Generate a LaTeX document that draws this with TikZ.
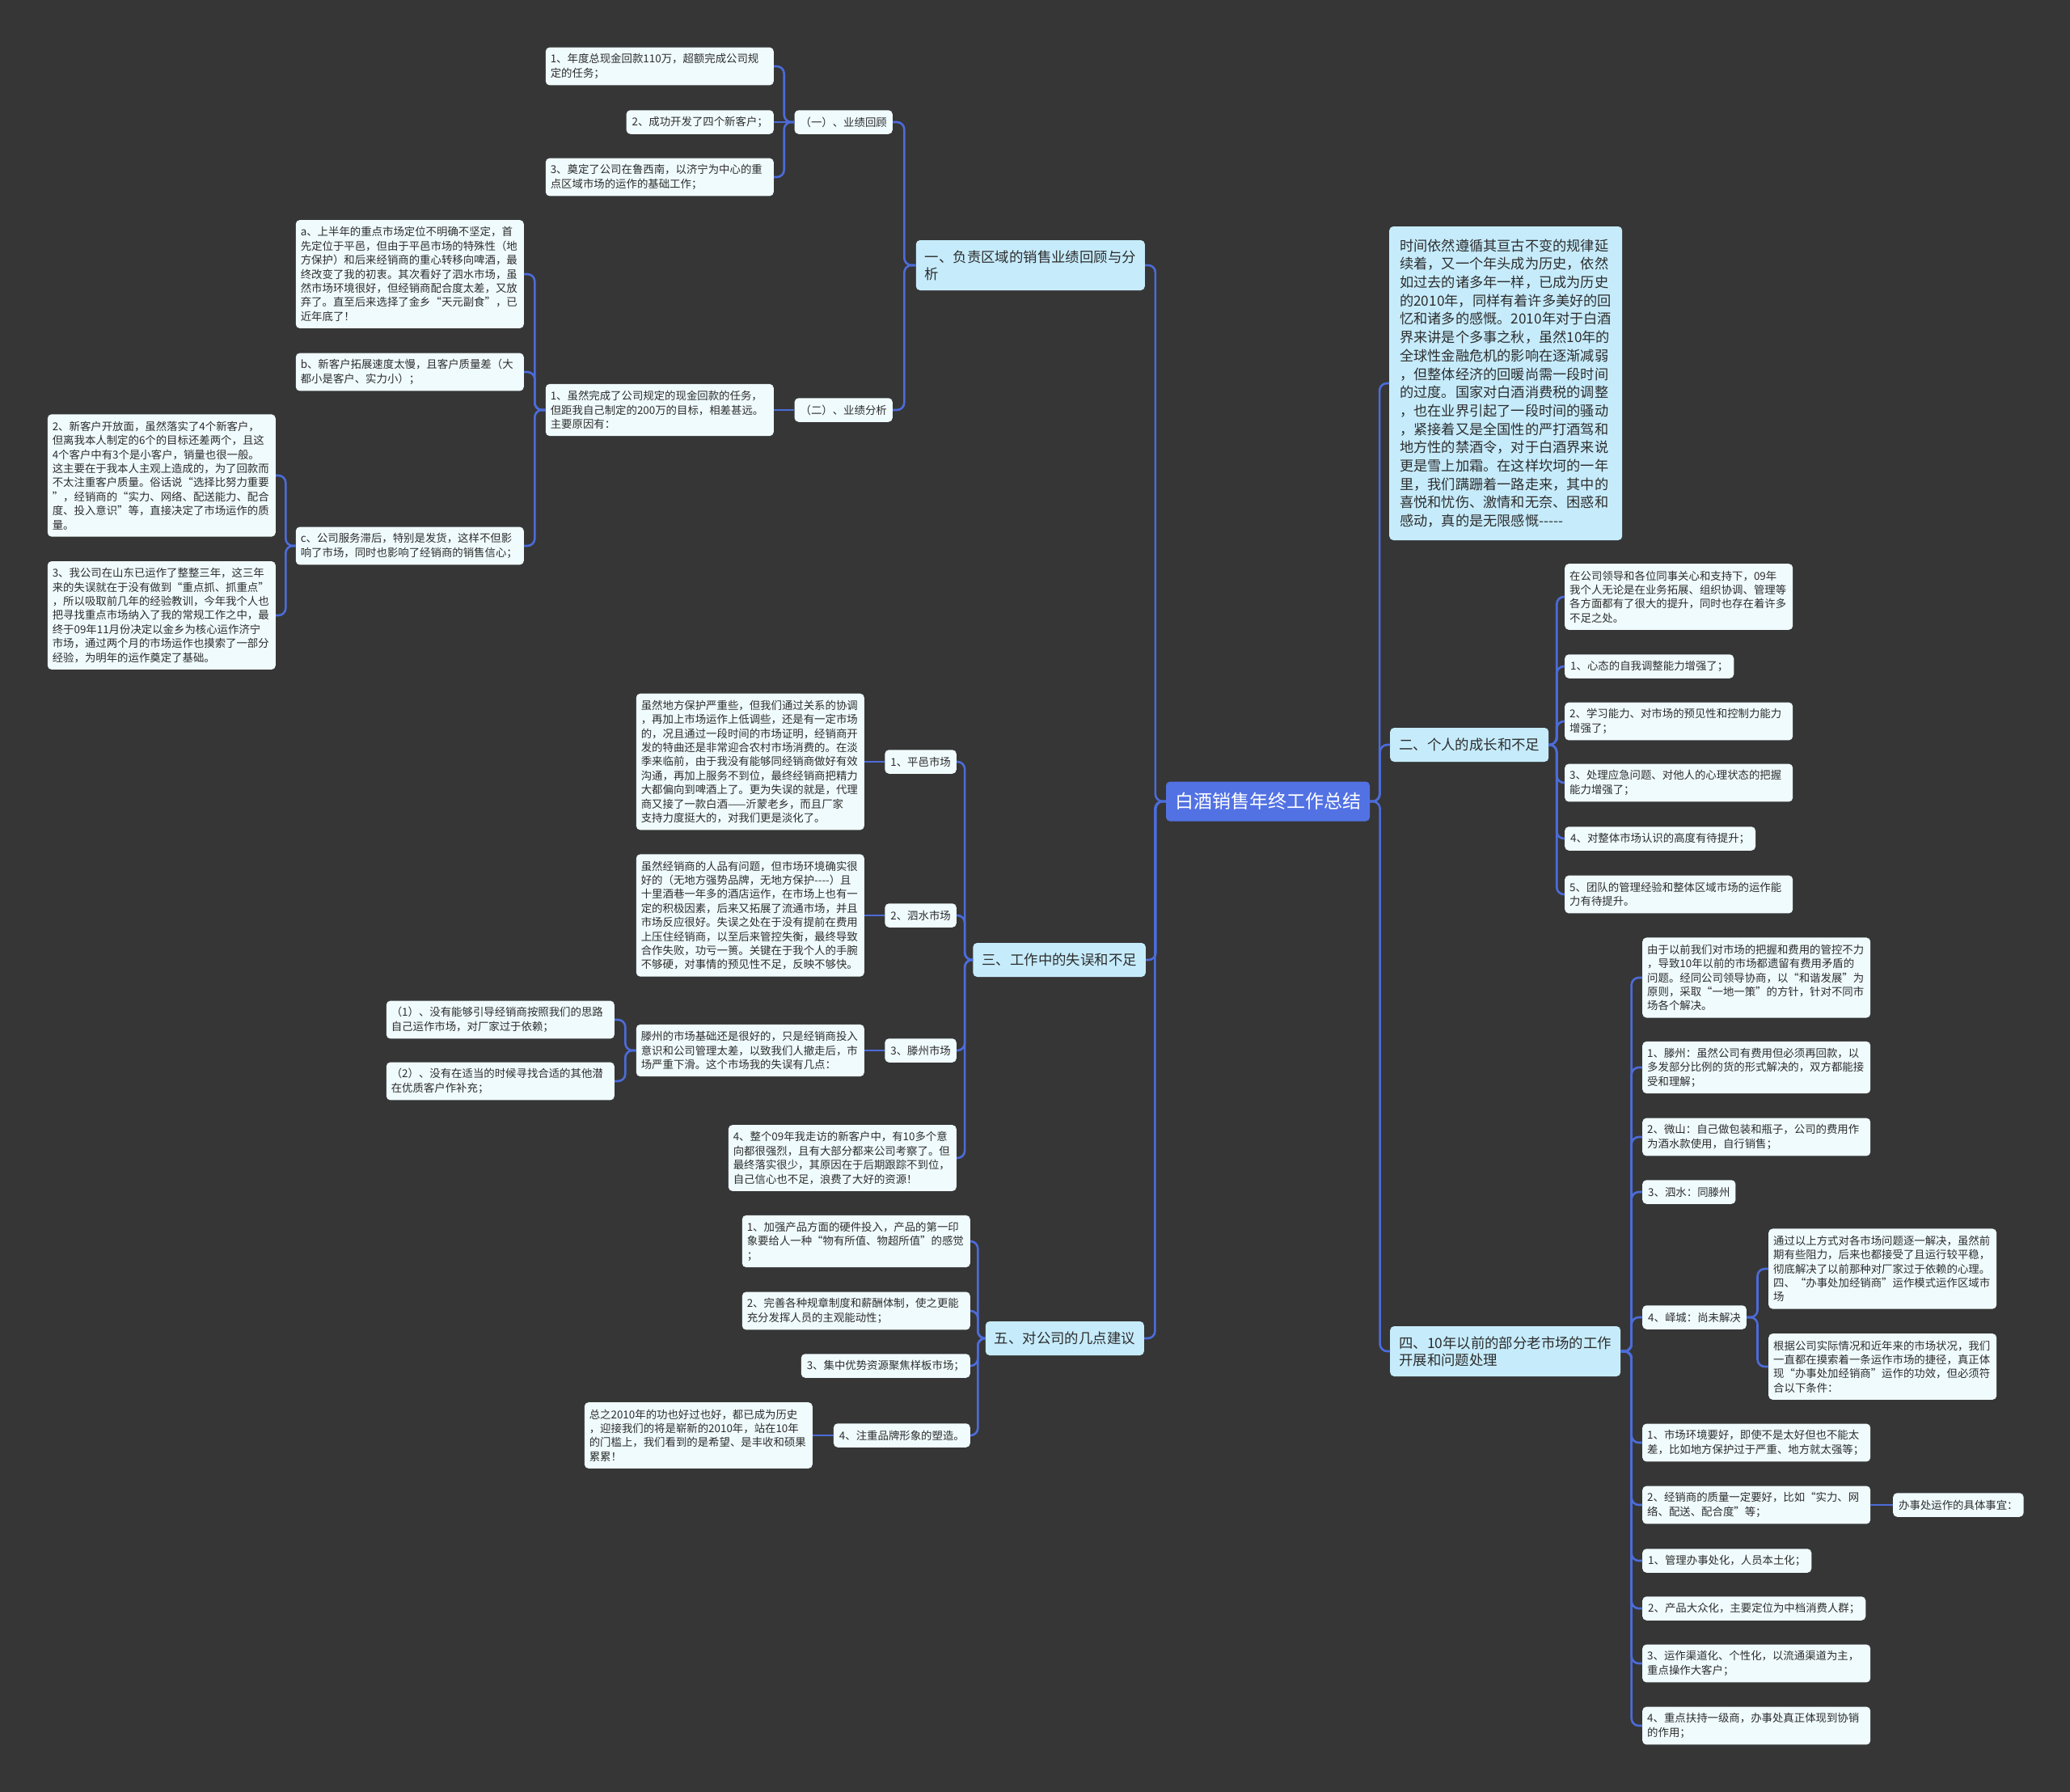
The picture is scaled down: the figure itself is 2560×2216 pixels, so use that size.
\documentclass[tikz,border=0pt]{standalone}
\usepackage{fontspec}
\setmainfont{Noto Sans CJK SC}
\usetikzlibrary{calc}
\definecolor{cBg}{RGB}{54,54,54}
\definecolor{cLeaf}{RGB}{240,251,253}
\definecolor{cLvl}{RGB}{198,236,252}
\definecolor{cRoot}{RGB}{82,114,228}
\definecolor{cLink}{RGB}{76,108,218}
\definecolor{cTxt}{RGB}{45,45,45}
\tikzset{
  nbase/.style={rounded corners=5pt, text=cTxt, inner ysep=3pt},
  ln/.style={minimum height=#1*17.4pt+12.1pt},
  lnb/.style={minimum height=#1*20pt+22pt},
  leaf/.style={nbase, fill=cLeaf, font=\fontsize{13.4}{17.4}\selectfont, inner xsep=7pt, align=left, ln=1},
  wrap/.style={leaf, text width=270pt, inner xsep=6pt},
  lvl/.style={nbase, fill=cLvl, font=\fontsize{17.4}{21}\selectfont, inner xsep=11pt, align=left},
  rootbox/.style={rounded corners=5pt, fill=cRoot, text=white, font=\fontsize{23}{28}\selectfont, inner xsep=11pt, minimum height=49pt},
  conn/.style={draw=cLink, line width=2.6pt, rounded corners=9pt},
}
\newcommand\lconn[2]{\draw[conn] (#1.west) -| ($(#1.west)!0.5!(#2.east)$) |- (#2.east);}
\newcommand\rconn[2]{\draw[conn] (#1.east) -| ($(#1.east)!0.5!(#2.west)$) |- (#2.west);}
\newcommand\lstraight[2]{\draw[conn] (#1.west) -- (#1.west -| #2.east);}
\newcommand\rstraight[2]{\draw[conn] (#1.east) -- (#1.east -| #2.west);}
\begin{document}
\begin{tikzpicture}[x=1pt,y=-1pt]
\fill[cBg] (0,0) rectangle (2560,2216);
\useasboundingbox (0,0) rectangle (2560,2216);

% root
\node[rootbox] (R) at (1568,991) {白酒销售年终工作总结};

% level 1 left
\node[lvl, lnb=2, anchor=east] (L1) at (1416,328) {一、负责区域的销售业绩回顾与分\\析};
\node[lvl, lnb=1, anchor=east] (L3) at (1417,1187) {三、工作中的失误和不足};
\node[lvl, lnb=1, anchor=east] (L5) at (1415,1655) {五、对公司的几点建议};
% level 1 right
\node[lvl, text width=262pt, inner xsep=13pt, font=\fontsize{17.2}{22.7}\selectfont, minimum height=388pt, anchor=west] (IN) at (1718,474) {时间依然遵循其亘古不变的规律延\\续着，又一个年头成为历史，依然\\如过去的诸多年一样，已成为历史\\的2010年，同样有着许多美好的回\\忆和诸多的感慨。2010年对于白酒\\界来讲是个多事之秋，虽然10年的\\全球性金融危机的影响在逐渐减弱\\，但整体经济的回暖尚需一段时间\\的过度。国家对白酒消费税的调整\\，也在业界引起了一段时间的骚动\\，紧接着又是全国性的严打酒驾和\\地方性的禁酒令，对于白酒界来说\\更是雪上加霜。在这样坎坷的一年\\里，我们蹒跚着一路走来，其中的\\喜悦和忧伤、激情和无奈、困惑和\\感动，真的是无限感慨-{}-{}-{}-{}-};
\node[lvl, lnb=1, anchor=west] (L2) at (1719,921) {二、个人的成长和不足};
\node[lvl, lnb=2, anchor=west] (L4) at (1719,1671) {四、10年以前的部分老市场的工作\\开展和问题处理};

% section one
\node[leaf, anchor=east] (Y1) at (1104,151) {（一）、业绩回顾};
\node[leaf, anchor=east] (Y2) at (1104,507) {（二）、业绩分析};
\node[wrap, ln=2, anchor=east] (N1a) at (957,82) {1、年度总现金回款110万，超额完成公司规\\定的任务；};
\node[leaf, anchor=east] (N1b) at (957,151) {2、成功开发了四个新客户；};
\node[wrap, ln=2, anchor=east] (N1c) at (957,219) {3、奠定了公司在鲁西南，以济宁为中心的重\\点区域市场的运作的基础工作；};
\node[wrap, ln=3, anchor=east] (A1) at (957,507) {1、虽然完成了公司规定的现金回款的任务，\\但距我自己制定的200万的目标，相差甚远。\\主要原因有：};
\node[wrap, ln=7, anchor=east] (Aa) at (648,339) {a、上半年的重点市场定位不明确不坚定，首\\先定位于平邑，但由于平邑市场的特殊性（地\\方保护）和后来经销商的重心转移向啤酒，最\\终改变了我的初衷。其次看好了泗水市场，虽\\然市场环境很好，但经销商配合度太差，又放\\弃了。直至后来选择了金乡“天元副食”，已\\近年底了！};
\node[wrap, ln=2, anchor=east] (Ab) at (648,460) {b、新客户拓展速度太慢，且客户质量差（大\\都小是客户、实力小）；};
\node[wrap, ln=2, anchor=east] (Ac) at (648,675) {c、公司服务滞后，特别是发货，这样不但影\\响了市场，同时也影响了经销商的销售信心；};
\node[wrap, ln=8, anchor=east] (A2) at (341,588) {2、新客户开放面，虽然落实了4个新客户，\\但离我本人制定的6个的目标还差两个，且这\\4个客户中有3个是小客户，销量也很一般。\\这主要在于我本人主观上造成的，为了回款而\\不太注重客户质量。俗话说“选择比努力重要\\”，经销商的“实力、网络、配送能力、配合\\度、投入意识”等，直接决定了市场运作的质\\量。};
\node[wrap, ln=7, anchor=east] (A3) at (341,761) {3、我公司在山东已运作了整整三年，这三年\\来的失误就在于没有做到“重点抓、抓重点”\\，所以吸取前几年的经验教训，今年我个人也\\把寻找重点市场纳入了我的常规工作之中，最\\终于09年11月份决定以金乡为核心运作济宁\\市场，通过两个月的市场运作也摸索了一部分\\经验，为明年的运作奠定了基础。};

% section three
\node[leaf, anchor=east] (P1) at (1183,942) {1、平邑市场};
\node[wrap, ln=9, anchor=east] (P1t) at (1069,942) {虽然地方保护严重些，但我们通过关系的协调\\，再加上市场运作上低调些，还是有一定市场\\的，况且通过一段时间的市场证明，经销商开\\发的特曲还是非常迎合农村市场消费的。在淡\\季来临前，由于我没有能够同经销商做好有效\\沟通，再加上服务不到位，最终经销商把精力\\大都偏向到啤酒上了。更为失误的就是，代理\\商又接了一款白酒——沂蒙老乡，而且厂家\\支持力度挺大的，对我们更是淡化了。};
\node[leaf, anchor=east] (P2) at (1183,1132) {2、泗水市场};
\node[wrap, ln=8, anchor=east] (P2t) at (1069,1132) {虽然经销商的人品有问题，但市场环境确实很\\好的（无地方强势品牌，无地方保护-{}-{}-{}-）且\\十里酒巷一年多的酒店运作，在市场上也有一\\定的积极因素，后来又拓展了流通市场，并且\\市场反应很好。失误之处在于没有提前在费用\\上压住经销商，以至后来管控失衡，最终导致\\合作失败，功亏一篑。关键在于我个人的手腕\\不够硬，对事情的预见性不足，反映不够快。};
\node[leaf, anchor=east] (P3) at (1183,1299) {3、滕州市场};
\node[wrap, ln=3, anchor=east] (P3t) at (1069,1299) {滕州的市场基础还是很好的，只是经销商投入\\意识和公司管理太差，以致我们人撤走后，市\\场严重下滑。这个市场我的失误有几点：};
\node[wrap, ln=2, anchor=east] (P3a) at (760,1261) {（1）、没有能够引导经销商按照我们的思路\\自己运作市场，对厂家过于依赖；};
\node[wrap, ln=2, anchor=east] (P3b) at (760,1337) {（2）、没有在适当的时候寻找合适的其他潜\\在优质客户作补充；};
\node[wrap, ln=4, anchor=east] (P4) at (1183,1432) {4、整个09年我走访的新客户中，有10多个意\\向都很强烈，且有大部分都来公司考察了。但\\最终落实很少，其原因在于后期跟踪不到位，\\自己信心也不足，浪费了大好的资源！};

% section five
\node[wrap, ln=3, anchor=east] (S1) at (1200,1535) {1、加强产品方面的硬件投入，产品的第一印\\象要给人一种“物有所值、物超所值”的感觉\\；};
\node[wrap, ln=2, anchor=east] (S2) at (1200,1621) {2、完善各种规章制度和薪酬体制，使之更能\\充分发挥人员的主观能动性；};
\node[leaf, anchor=east] (S3) at (1200,1689) {3、集中优势资源聚焦样板市场；};
\node[leaf, anchor=east] (S4) at (1200,1775) {4、注重品牌形象的塑造。};
\node[wrap, ln=4, anchor=east] (S4t) at (1005,1775) {总之2010年的功也好过也好，都已成为历史\\，迎接我们的将是崭新的2010年，站在10年\\的门槛上，我们看到的是希望、是丰收和硕果\\累累！};

% section two
\node[wrap, ln=4, anchor=west] (R2a) at (1935,738) {在公司领导和各位同事关心和支持下，09年\\我个人无论是在业务拓展、组织协调、管理等\\各方面都有了很大的提升，同时也存在着许多\\不足之处。};
\node[leaf, anchor=west] (R2b) at (1935,824) {1、心态的自我调整能力增强了；};
\node[wrap, ln=2, anchor=west] (R2c) at (1935,892) {2、学习能力、对市场的预见性和控制力能力\\增强了；};
\node[wrap, ln=2, anchor=west] (R2d) at (1935,968) {3、处理应急问题、对他人的心理状态的把握\\能力增强了；};
\node[leaf, anchor=west] (R2e) at (1935,1037) {4、对整体市场认识的高度有待提升；};
\node[wrap, ln=2, anchor=west] (R2f) at (1935,1106) {5、团队的管理经验和整体区域市场的运作能\\力有待提升。};

% section four
\node[wrap, ln=5, anchor=west] (R4a) at (2031,1209) {由于以前我们对市场的把握和费用的管控不力\\，导致10年以前的市场都遗留有费用矛盾的\\问题。经同公司领导协商，以“和谐发展”为\\原则，采取“一地一策”的方针，针对不同市\\场各个解决。};
\node[wrap, ln=3, anchor=west] (R4b) at (2031,1320) {1、滕州：虽然公司有费用但必须再回款，以\\多发部分比例的货的形式解决的，双方都能接\\受和理解；};
\node[wrap, ln=2, anchor=west] (R4c) at (2031,1406) {2、微山：自己做包装和瓶子，公司的费用作\\为酒水款使用，自行销售；};
\node[leaf, anchor=west] (R4d) at (2031,1474) {3、泗水：同滕州};
\node[leaf, anchor=west] (R4e) at (2031,1629) {4、峄城：尚未解决};
\node[wrap, ln=5, anchor=west] (R4e1) at (2187,1569) {通过以上方式对各市场问题逐一解决，虽然前\\期有些阻力，后来也都接受了且运行较平稳，\\彻底解决了以前那种对厂家过于依赖的心理。\\四、“办事处加经销商”运作模式运作区域市\\场};
\node[wrap, ln=4, anchor=west] (R4e2) at (2187,1690) {根据公司实际情况和近年来的市场状况，我们\\一直都在摸索着一条运作市场的捷径，真正体\\现“办事处加经销商”运作的功效，但必须符\\合以下条件：};
\node[wrap, ln=2, anchor=west] (R4f) at (2031,1784) {1、市场环境要好，即使不是太好但也不能太\\差，比如地方保护过于严重、地方就太强等；};
\node[wrap, ln=2, anchor=west] (R4g) at (2031,1861) {2、经销商的质量一定要好，比如“实力、网\\络、配送、配合度”等；};
\node[leaf, anchor=west] (R4g1) at (2341,1861) {办事处运作的具体事宜：};
\node[leaf, anchor=west] (R4h) at (2031,1930) {1、管理办事处化，人员本土化；};
\node[leaf, anchor=west] (R4i) at (2031,1989) {2、产品大众化，主要定位为中档消费人群；};
\node[wrap, ln=2, anchor=west] (R4j) at (2031,2057) {3、运作渠道化、个性化，以流通渠道为主，\\重点操作大客户；};
\node[wrap, ln=2, anchor=west] (R4k) at (2031,2134) {4、重点扶持一级商，办事处真正体现到协销\\的作用；};

% connectors
\lconn{R}{L1} \lconn{R}{L3} \lconn{R}{L5}
\rconn{R}{IN} \rconn{R}{L2} \rconn{R}{L4}
\lconn{L1}{Y1} \lconn{L1}{Y2}
\lconn{Y1}{N1a} \lstraight{Y1}{N1b} \lconn{Y1}{N1c}
\lstraight{Y2}{A1}
\lconn{A1}{Aa} \lconn{A1}{Ab} \lconn{A1}{Ac}
\lconn{Ac}{A2} \lconn{Ac}{A3}
\lconn{L3}{P1} \lconn{L3}{P2} \lconn{L3}{P3} \lconn{L3}{P4}
\lstraight{P1}{P1t} \lstraight{P2}{P2t} \lstraight{P3}{P3t}
\lconn{P3t}{P3a} \lconn{P3t}{P3b}
\lconn{L5}{S1} \lconn{L5}{S2} \lconn{L5}{S3} \lconn{L5}{S4}
\lstraight{S4}{S4t}
\rconn{L2}{R2a} \rconn{L2}{R2b} \rconn{L2}{R2c} \rconn{L2}{R2d} \rconn{L2}{R2e} \rconn{L2}{R2f}
\rconn{L4}{R4a} \rconn{L4}{R4b} \rconn{L4}{R4c} \rconn{L4}{R4d} \rconn{L4}{R4e}
\rconn{L4}{R4f} \rconn{L4}{R4g} \rconn{L4}{R4h} \rconn{L4}{R4i} \rconn{L4}{R4j} \rconn{L4}{R4k}
\rconn{R4e}{R4e1} \rconn{R4e}{R4e2}
\rstraight{R4g}{R4g1}
\end{tikzpicture}
\end{document}
